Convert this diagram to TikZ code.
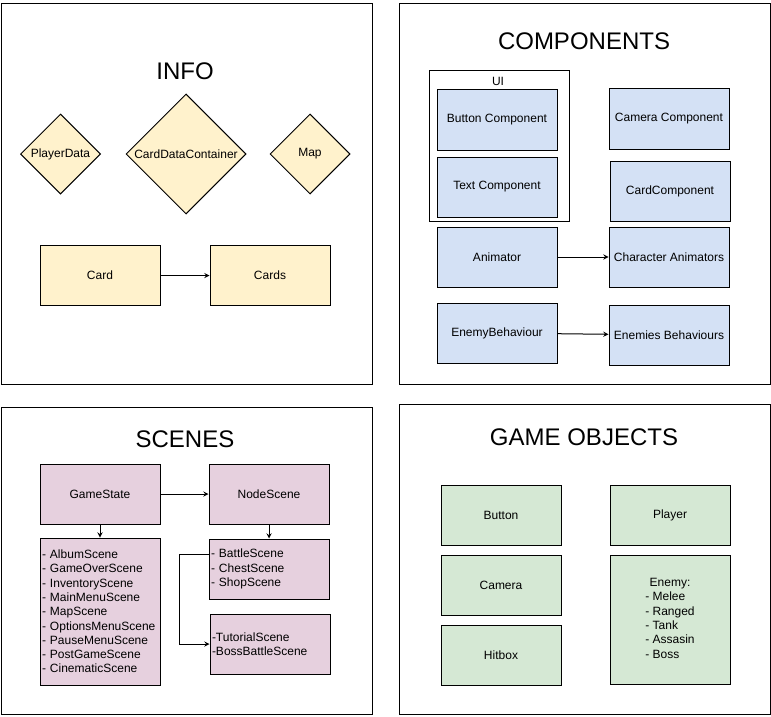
\documentclass[tikz,border=0pt]{standalone}
\usepackage{fontspec}
\setmainfont{Liberation Sans}
\usetikzlibrary{shapes.geometric}

\definecolor{infofill}{HTML}{FFF2CC}
\definecolor{compfill}{HTML}{D4E1F5}
\definecolor{scenefill}{HTML}{E6D0DE}
\definecolor{objfill}{HTML}{D5E8D4}

\begin{document}
\begin{tikzpicture}[x=0.75pt,y=-0.75pt,line width=0.75pt]
        \useasboundingbox (0,0) rectangle (771,717);
        % panels
        \draw (1,4) rectangle (372,384);
        \draw (399,4) rectangle (770,384);
        \draw (1,407) rectangle (372,714);
        \draw (399,404) rectangle (770,714);
        \draw (429,71) rectangle (569,221);

        \begin{scope}[every node/.style={font=\fontsize{18}{21}\selectfont}]
                \node (TInfo) at (185,71) {INFO};
                \node (TComp) at (584,41) {COMPONENTS};
                \node (TScene) at (185,439) {SCENES};
                \node (TObj) at (584,437) {GAME OBJECTS};
                \node [font=\fontsize{9}{11}\selectfont] (TUI) at (498,81) {UI};
        \end{scope}

        \begin{scope}[every node/.style={draw, font=\fontsize{9}{10.7}\selectfont, minimum width=90pt, minimum height=45pt, inner sep=1.5pt}, every path/.style={->, >=stealth}]
                % info
                \node [diamond, fill=infofill, minimum width=60pt, minimum height=60pt, inner sep=0pt] (PlayerData) at (60.5,154) {PlayerData};
                \node [diamond, fill=infofill, minimum width=90pt, minimum height=90pt, inner sep=0pt] (CardData) at (186,154) {CardDataContainer};
                \node [diamond, fill=infofill, minimum width=60pt, minimum height=60pt, inner sep=0pt] (Map) at (310,154) {Map};
                \node [fill=infofill] (Card) at (100,275.5) {Card};
                \node [fill=infofill] (Cards) at (270,275.5) {Cards};

                % components
                \node [fill=compfill] (ButtonComp) at (497,120) {Button Component};
                \node [fill=compfill] (TextComp) at (497,187) {Text Component};
                \node [fill=compfill] (CameraComp) at (669,119) {Camera Component};
                \node [fill=compfill] (CardComp) at (670,191) {CardComponent};
                \node [fill=compfill] (Animator) at (497,257) {Animator};
                \node [fill=compfill] (CharAnim) at (669,257) {Character Animators};
                \node [fill=compfill] (EnemyBeh) at (497,333) {EnemyBehaviour};
                \node [fill=compfill] (EnemiesBeh) at (669,335) {Enemies Behaviours};

                % scenes
                \node [fill=scenefill] (GameState) at (100,494) {GameState};
                \node [fill=scenefill] (NodeScene) at (269,494) {NodeScene};
                \node [fill=scenefill, minimum height=110.25pt, text width=87pt, align=left] (SceneList) at (100,611.5) {- AlbumScene\\- GameOverScene\\- InventoryScene\\- MainMenuScene\\- MapScene\\- OptionsMenuScene\\- PauseMenuScene\\- PostGameScene\\- CinematicScene};
                \node [fill=scenefill, text width=87pt, align=left] (Battle) at (269,569) {- BattleScene\\- ChestScene\\- ShopScene};
                \node [fill=scenefill, text width=87pt, align=left] (Tutorial) at (270,644) {-TutorialScene\\-BossBattleScene};

                % game objects
                \node [fill=objfill] (Button) at (501,515) {Button};
                \node [fill=objfill] (Camera) at (501,585) {Camera};
                \node [fill=objfill] (Hitbox) at (501,655) {Hitbox};
                \node [fill=objfill] (Player) at (670,515) {Player};
                \node [fill=objfill, minimum height=96.75pt] (Enemy) at (670,619.5) {\begin{tabular}{@{}l@{}}\multicolumn{1}{@{}c@{}}{Enemy:}\\- Melee\\- Ranged\\- Tank\\- Assasin\\- Boss\end{tabular}};

                \path (Card) edge (Cards);
                \path (Animator) edge (CharAnim);
                \path (EnemyBeh) edge (EnemiesBeh);
                \path (GameState) edge (NodeScene);
                \path (GameState) edge (SceneList);
                \path (NodeScene) edge (Battle);
                \draw ([yshift=11.25pt]Battle.west) -- ++(-29,0) |- (Tutorial.west);
        \end{scope}
\end{tikzpicture}
\end{document}
